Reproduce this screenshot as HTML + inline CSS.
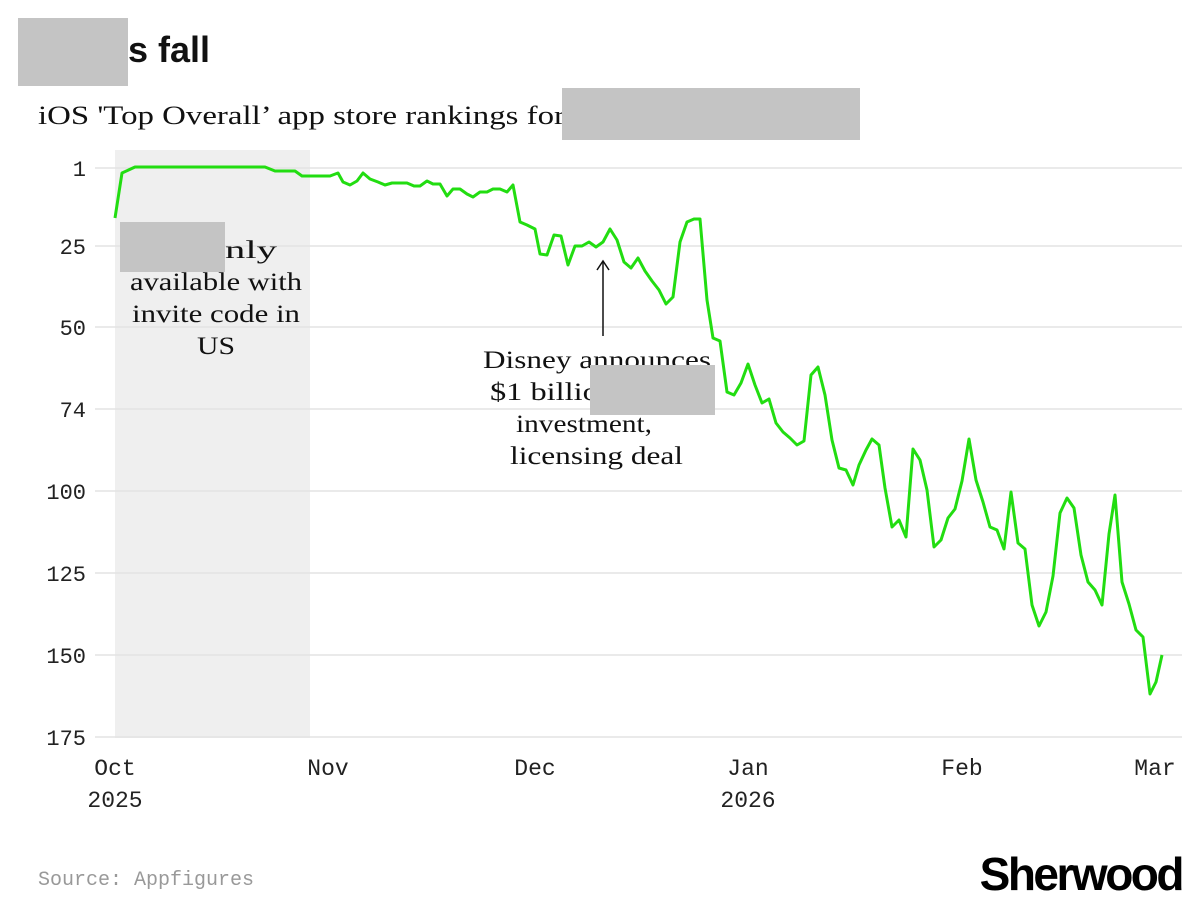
<!DOCTYPE html>
<html><head><meta charset="utf-8"><style>
body{margin:0;background:#fff;width:1200px;height:912px;overflow:hidden}
svg{display:block}
</style></head><body>
<svg width="1200" height="912" xmlns="http://www.w3.org/2000/svg">
<rect x="115" y="150" width="195" height="588" fill="#efefef"/>
<g stroke="#e3e3e3" stroke-width="1.5">
<line x1="95" y1="168" x2="1182" y2="168"/>
<line x1="95" y1="246" x2="1182" y2="246"/>
<line x1="95" y1="327" x2="1182" y2="327"/>
<line x1="95" y1="409" x2="1182" y2="409"/>
<line x1="95" y1="491" x2="1182" y2="491"/>
<line x1="95" y1="573" x2="1182" y2="573"/>
<line x1="95" y1="655" x2="1182" y2="655"/>
<line x1="95" y1="737" x2="1182" y2="737"/>
</g>
<g font-family="Liberation Mono, monospace" font-size="22" fill="#222" text-anchor="end">
<text x="86" y="176">1</text><text x="86" y="254">25</text><text x="86" y="335">50</text>
<text x="86" y="417">74</text><text x="86" y="499">100</text><text x="86" y="581">125</text>
<text x="86" y="663">150</text><text x="86" y="745">175</text>
</g>
<g font-family="Liberation Mono, monospace" font-size="23" fill="#222" text-anchor="middle">
<text x="115" y="775">Oct</text><text x="115" y="807">2025</text>
<text x="328" y="775">Nov</text><text x="535" y="775">Dec</text>
<text x="748" y="775">Jan</text><text x="748" y="807">2026</text>
<text x="962" y="775">Feb</text><text x="1155" y="775">Mar</text>
</g>
<text x="128" y="62" font-family="Liberation Sans, sans-serif" font-weight="bold" font-size="36" fill="#111">s fall</text>
<rect x="18" y="18" width="110" height="68" fill="#c4c4c4"/>
<text x="38" y="124" font-family="Liberation Serif, serif" font-size="26" fill="#111" textLength="527" lengthAdjust="spacingAndGlyphs">iOS 'Top Overall’ app store rankings for</text>
<rect x="562" y="88" width="298" height="52" fill="#c4c4c4"/>
<g font-family="Liberation Serif, serif" font-size="25" fill="#111">
<text x="120" y="258" textLength="157" lengthAdjust="spacingAndGlyphs">Sora only</text>
<text x="130" y="290" textLength="172" lengthAdjust="spacingAndGlyphs">available with</text>
<text x="132" y="322" textLength="168" lengthAdjust="spacingAndGlyphs">invite code in</text>
<text x="197" y="354" textLength="38" lengthAdjust="spacingAndGlyphs">US</text>
<text x="483" y="368" textLength="228" lengthAdjust="spacingAndGlyphs">Disney announces</text>
<text x="490" y="400" textLength="214" lengthAdjust="spacingAndGlyphs">$1 billion equity</text>
<text x="516" y="432" textLength="136" lengthAdjust="spacingAndGlyphs">investment,</text>
<text x="510" y="464" textLength="173" lengthAdjust="spacingAndGlyphs">licensing deal</text>
</g>
<rect x="120" y="222" width="105" height="50" fill="#c4c4c4"/>
<rect x="590" y="365" width="125" height="50" fill="#c4c4c4"/>
<line x1="603" y1="336" x2="603" y2="262" stroke="#111" stroke-width="1.5"/>
<path d="M597 270 L603 261 L609 270" fill="none" stroke="#111" stroke-width="1.5"/>
<polyline fill="none" stroke="#22dd11" stroke-width="3" stroke-linejoin="round" points="115,218 122,173 135,167 265,167 275,171 295,171 302,176 330,176 338,173 343,182 350,185 357,181 363,173 370,179 378,182 385,185 392,183 400,183 407,183 414,186 420,186 427,181 433,184 440,184 447,196 453,189 460,189 467,194 473,197 480,192 487,192 493,189 500,189 507,192 513,185 520,222 527,225 535,229 540,254 547,255 554,235 561,236 568,265 575,246 582,246 589,242 596,247 603,242 610,229 617,240 624,262 631,268 638,258 645,271 652,281 659,290 666,304 673,297 680,242 687,222 694,219 700,219 707,300 713,338 720,341 727,392 734,395 741,383 748,364 755,385 762,403 769,399 776,423 783,432 790,438 797,445 804,441 811,375 818,367 825,395 832,440 839,468 846,470 853,485 859,465 866,450 872,439 879,445 885,488 892,527 899,520 906,537 913,449 920,460 927,490 934,547 941,540 948,518 955,509 962,481 969,439 976,480 983,502 990,527 997,530 1004,549 1011,492 1018,543 1025,549 1032,605 1039,626 1046,612 1053,576 1060,513 1067,498 1074,508 1081,555 1088,582 1095,590 1102,605 1109,534 1115,495 1122,582 1129,604 1136,630 1143,637 1150,694 1156,682 1162,655"/>
<text x="38" y="885" font-family="Liberation Mono, monospace" font-size="20" fill="#999">Source: Appfigures</text>
<text x="1182" y="890" text-anchor="end" font-family="Liberation Sans, sans-serif" font-weight="bold" font-size="46" letter-spacing="-2.5" fill="#000">Sherwood</text>
</svg>
</body></html>
